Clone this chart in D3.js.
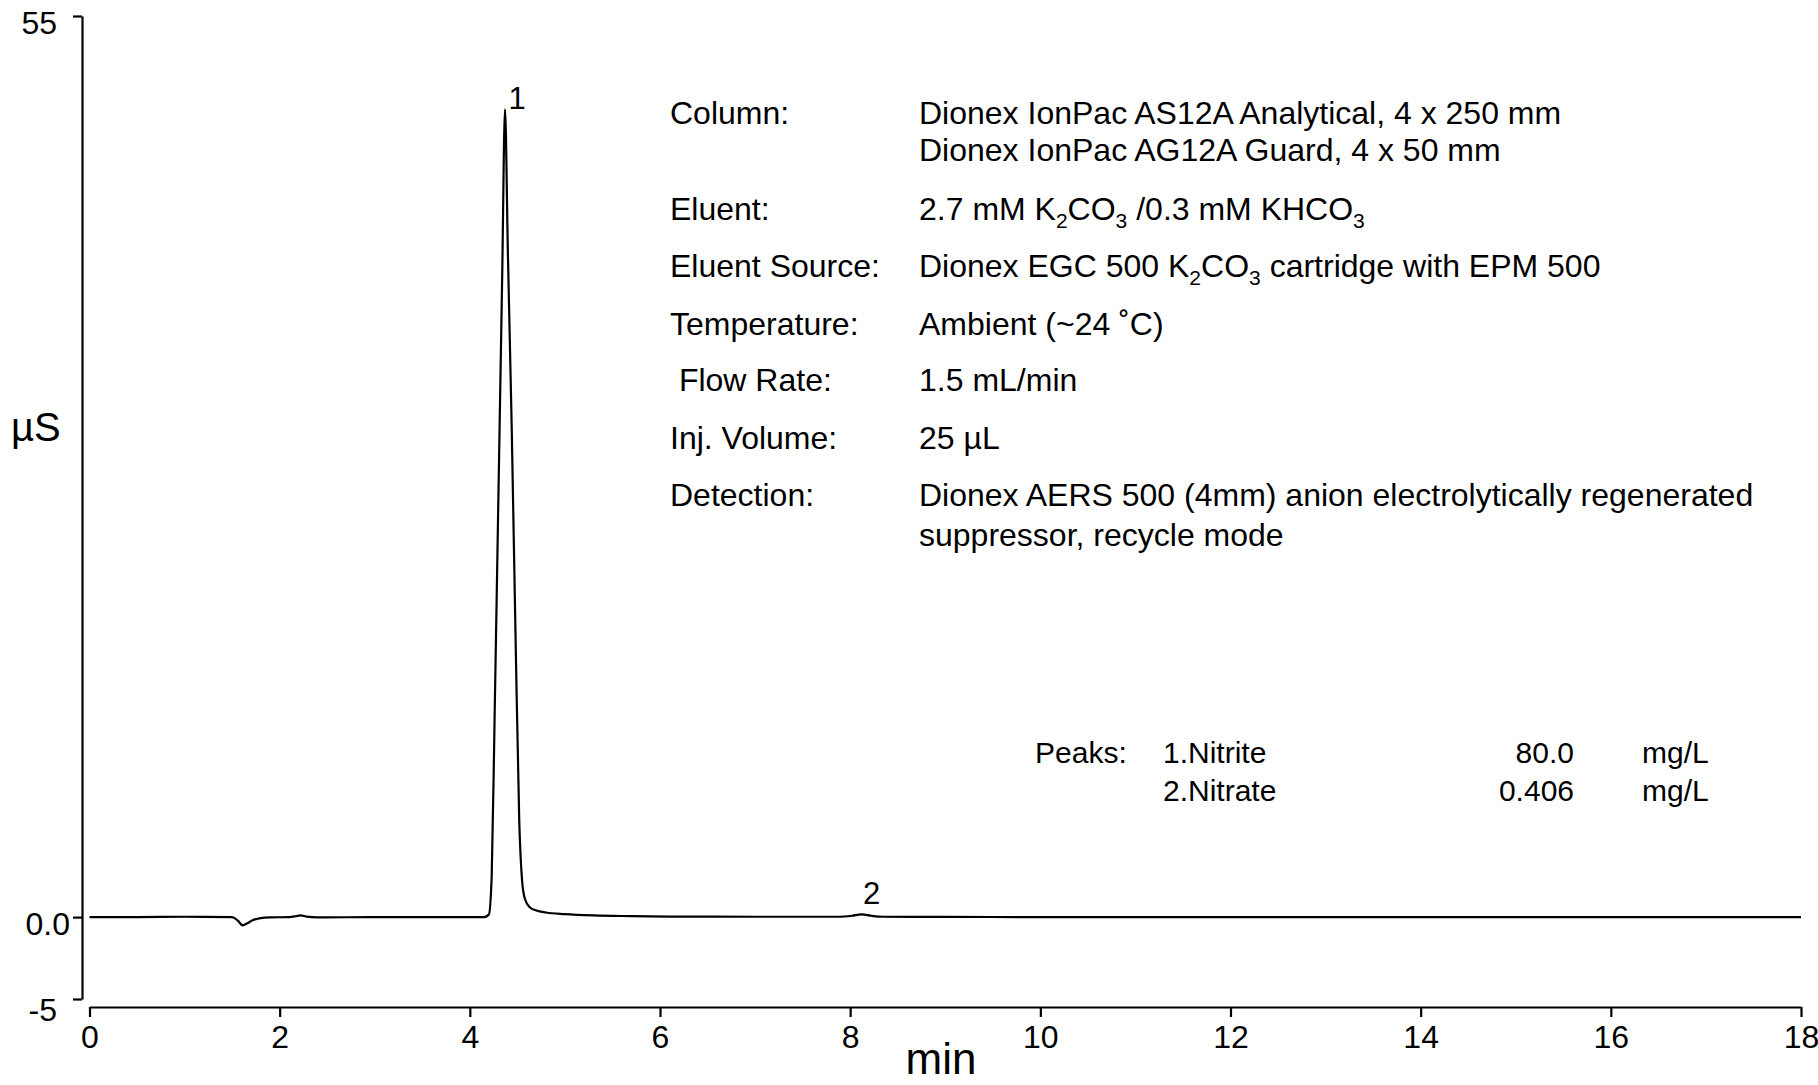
<!DOCTYPE html>
<html>
<head>
<meta charset="utf-8">
<script src="https://cdn.jsdelivr.net/npm/d3@7"></script>
<style>
  body { margin: 0; background: #fff; }
  svg text { font-family: "Liberation Sans", Arial, sans-serif; fill: #000; }
</style>
</head>
<body>
<script>
// chromatogram trace (time in min, signal in µS)
var traceTime = [0, 0.5, 1.0, 1.5, 1.56, 1.61, 1.66, 1.72, 1.8, 1.9, 2.1, 2.17, 2.22, 2.28, 2.4,
  3.0, 3.5, 4.0, 4.15, 4.2, 4.23, 4.26, 4.3, 4.34, 4.37, 4.4, 4.44, 4.48, 4.52, 4.55, 4.58,
  4.63, 4.7, 4.8, 5.0, 5.3, 5.7, 6.2, 7.0, 7.9, 8.02, 8.12, 8.22, 8.35, 9, 10, 12, 14, 16, 18];
var traceSignal = [0, 0, 0.02, 0, -0.22, -0.5, -0.38, -0.18, -0.06, -0.02, 0, 0.05, 0.1, 0.03, -0.02,
  0, 0, 0, 0, 0.15, 2.5, 12, 25.5, 39, 49.3, 40.6, 30, 17.4, 5.8, 2.2, 1.1,
  0.6, 0.4, 0.28, 0.18, 0.1, 0.06, 0.03, 0.02, 0.02, 0.08, 0.16, 0.08, 0.02, 0.01, 0, 0, 0, 0, 0];

var xTicks = [0, 2, 4, 6, 8, 10, 12, 14, 16, 18];
var yTicks = [55, 0, -5];

var peakNo = ["1", "2"];
var peakTime = [4.37, 8.12];
var peakHeight = [49.3, 0.16];
var peakName = ["1.Nitrite", "2.Nitrate"];
var peakConc = ["80.0", "0.406"];
var peakUnit = ["mg/L", "mg/L"];

// conditions: label, then value parts [text, isSubscript]
var condLabels = ["Column:", "", "Eluent:", "Eluent Source:", "Temperature:", " Flow Rate:", "Inj. Volume:", "Detection:", ""];
var condValues = [
  [["Dionex IonPac AS12A Analytical, 4 x 250 mm", 0]],
  [["Dionex IonPac AG12A Guard, 4 x 50 mm", 0]],
  [["2.7 mM K", 0], ["2", 1], ["CO", 0], ["3", 1], [" /0.3 mM KHCO", 0], ["3", 1]],
  [["Dionex EGC 500 K", 0], ["2", 1], ["CO", 0], ["3", 1], [" cartridge with EPM 500", 0]],
  [["Ambient (~24 \u02DAC)", 0]],
  [["1.5 mL/min", 0]],
  [["25 \u00B5L", 0]],
  [["Dionex AERS 500 (4mm) anion electrolytically regenerated", 0]],
  [["suppressor, recycle mode", 0]]
];

var W = 1818, H = 1085;
var svg = d3.select("body").append("svg").attr("width", W).attr("height", H);

var x = d3.scaleLinear().domain([0, 18]).range([89.5, 1801]);
var y = d3.scaleLinear().domain([-5, 55]).range([999, 16]);

// x axis
var xAxis = svg.append("g")
  .attr("transform", "translate(0,1007)")
  .call(d3.axisBottom(x).tickValues(xTicks).tickSize(10).tickPadding(8).tickSizeOuter(0));
xAxis.select(".domain").attr("stroke", "#000").attr("stroke-width", 2.2);
xAxis.selectAll(".tick line").attr("stroke", "#000").attr("stroke-width", 2.2);
xAxis.selectAll(".tick text").style("font-size", "32px").attr("fill", "#000")
  .style("font-family", "'Liberation Sans', Arial, sans-serif");

// y axis
var yAxis = svg.append("g")
  .attr("transform", "translate(82,0)")
  .call(d3.axisLeft(y).tickValues(yTicks).tickSize(9).tickSizeOuter(0)
    .tickFormat(function (d) { return d === 0 ? "0.0" : d; }));
yAxis.select(".domain").attr("stroke", "#000").attr("stroke-width", 2.2);
yAxis.selectAll(".tick line").attr("stroke", "#000").attr("stroke-width", 2.2);
yAxis.selectAll(".tick text").style("font-size", "32px").attr("fill", "#000")
  .style("font-family", "'Liberation Sans', Arial, sans-serif")
  .attr("x", function (d) { return d === 0 ? -12 : -25; })
  .attr("dy", function (d) { return d === -5 ? "0.68em" : "0.55em"; });

// axis titles
svg.append("text").attr("x", 941).attr("y", 1074).attr("text-anchor", "middle")
  .style("font-size", "44px").text("min");
svg.append("text").attr("x", 11).attr("y", 441)
  .style("font-size", "40px").text("\u00B5S");

// trace
var line = d3.line()
  .x(function (d, i) { return x(traceTime[i]); })
  .y(function (d, i) { return y(traceSignal[i]); })
  .curve(d3.curveMonotoneX);
svg.append("path")
  .attr("d", line(traceTime))
  .attr("fill", "none")
  .attr("stroke", "#000")
  .attr("stroke-width", 2.2)
  .attr("stroke-linejoin", "round");

// peak numbers
svg.selectAll(".peakno").data(peakNo).enter().append("text")
  .attr("class", "peakno")
  .attr("x", function (d, i) { return x(peakTime[i]) + (i === 0 ? 12 : 10); })
  .attr("y", function (d, i) { return y(peakHeight[i]) - (i === 0 ? 0 : 10); })
  .attr("text-anchor", "middle")
  .style("font-size", "31px")
  .text(function (d) { return d; });

// conditions block
var condY = [123.5, 160.6, 219.7, 276.5, 334.5, 391.3, 449.3, 506.1, 545.5];
var cond = svg.append("g").style("font-size", "32px");
cond.selectAll(".clab").data(condLabels).enter().append("text")
  .attr("x", 670).attr("y", function (d, i) { return condY[i]; })
  .style("white-space", "pre")
  .text(function (d) { return d; });
cond.selectAll(".cval").data(condValues).enter().append("text")
  .attr("x", 919).attr("y", function (d, i) { return condY[i]; })
  .each(function (parts) {
    var t = d3.select(this), shift = 0;
    parts.forEach(function (p) {
      var target = p[1] ? 8 : 0;
      t.append("tspan")
        .attr("dy", target - shift)
        .style("font-size", p[1] ? "21px" : null)
        .text(p[0]);
      shift = target;
    });
  });

// peaks table
var peaksY = [763, 801];
svg.append("text").attr("x", 1035).attr("y", peaksY[0]).style("font-size", "30px").text("Peaks:");
svg.selectAll(".pname").data(peakName).enter().append("text")
  .attr("x", 1163).attr("y", function (d, i) { return peaksY[i]; })
  .style("font-size", "30px").text(function (d) { return d; });
svg.selectAll(".pconc").data(peakConc).enter().append("text")
  .attr("x", 1574).attr("y", function (d, i) { return peaksY[i]; })
  .attr("text-anchor", "end")
  .style("font-size", "30px").text(function (d) { return d; });
svg.selectAll(".punit").data(peakUnit).enter().append("text")
  .attr("x", 1642).attr("y", function (d, i) { return peaksY[i]; })
  .style("font-size", "30px").text(function (d) { return d; });
</script>
</body>
</html>
